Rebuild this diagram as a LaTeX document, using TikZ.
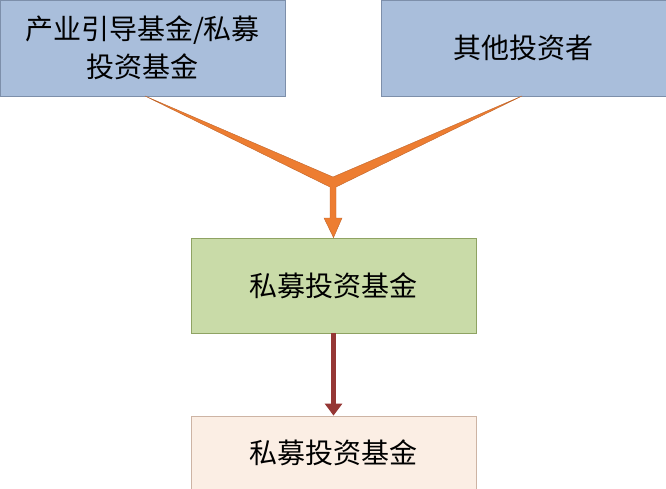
\documentclass[tikz,border=0pt]{standalone}
\usepackage{fontspec}
\newfontfamily\cjk{Noto Sans CJK SC}
\usetikzlibrary{arrows.meta}
\definecolor{boxblue}{HTML}{A9BEDB}
\definecolor{lineblue}{HTML}{7D8FAA}
\definecolor{boxgreen}{HTML}{C9DBA8}
\definecolor{linegreen}{HTML}{8FA363}
\definecolor{boxpeach}{HTML}{FBEEE4}
\definecolor{linepeach}{HTML}{CDB4A4}
\definecolor{flow}{HTML}{ED7D31}
\definecolor{flowline}{HTML}{C0652A}
\definecolor{down}{HTML}{953735}
\tikzset{
  fundbox/.style={draw, line width=0.8pt, minimum width=285pt, inner sep=0pt,
                  font=\cjk\fontsize{28}{38}\selectfont, align=center}
}
\begin{document}
\begin{tikzpicture}[x=1pt,y=-1pt]

  \useasboundingbox (0,0) rectangle (666,489);

  % boxes
  \node[fundbox, fill=boxblue, draw=lineblue, minimum height=96pt]
       (guide) at (142.5,48) {产业引导基金/私募\\投资基金};
  \node[fundbox, fill=boxblue, draw=lineblue, minimum height=96pt]
       (other) at (523.5,48) {其他投资者};
  \node[fundbox, fill=boxgreen, draw=linegreen, minimum height=95pt]
       (fund) at (333.5,285.5) {私募投资基金};
  \node[fundbox, fill=boxpeach, draw=linepeach, minimum height=73pt]
       (sub) at (333.5,452.5) {私募投资基金};

  % merging wedge
  \coordinate (L) at (145,96);
  \coordinate (R) at (522,96);
  \fill[flow, draw=flowline, line width=0.4pt]
       (L) -- (333,177) -- (R) -- (336,187) -- (336,218) -- (342,218)
       -- (fund.north) -- (324,218) -- (330,218) -- (330,187) -- cycle;

  % down arrow
  \draw[down, line width=5pt, -{Triangle[length=12pt,width=17pt]}]
       (fund.south) -- (sub.north);

\end{tikzpicture}
\end{document}
